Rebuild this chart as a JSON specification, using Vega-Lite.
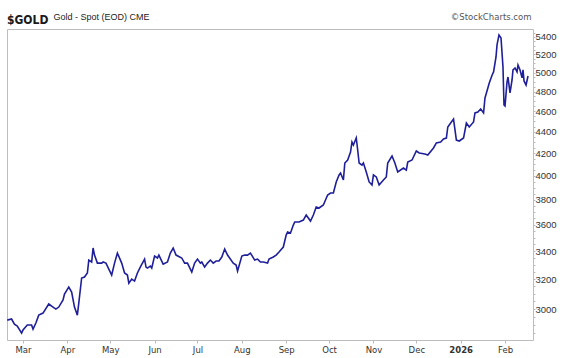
{
"$schema": "https://vega.github.io/schema/vega-lite/v6.json",
"width": 526, "height": 311,
"autosize": {"type": "none"},
"padding": {"left": 7, "top": 29, "right": 29, "bottom": 18},
"background": "white",
"title": {"text": "$GOLD", "anchor": "start", "frame": "group", "orient": "top", "offset": 0, "dy": 24, "baseline": "alphabetic", "font": "Liberation Sans Narrow, DejaVu Sans Condensed, sans-serif", "fontSize": 12, "fontWeight": "bold", "color": "#1a1a1a"},
"config": {"view": {"stroke": "#bdbdbd", "strokeWidth": 1}, "axis": {"grid": false, "domain": false}},
"data": {"values": [
{"date":"2025-02-18","close":2929},{"date":"2025-02-21","close":2936},{"date":"2025-02-23","close":2904},{"date":"2025-02-25","close":2892},{"date":"2025-02-28","close":2848},
{"date":"2025-03-01","close":2867},{"date":"2025-03-04","close":2898},{"date":"2025-03-07","close":2898},{"date":"2025-03-08","close":2873},{"date":"2025-03-10","close":2911},{"date":"2025-03-12","close":2961},{"date":"2025-03-15","close":2974},{"date":"2025-03-19","close":3033},{"date":"2025-03-22","close":3013},{"date":"2025-03-24","close":3000},{"date":"2025-03-26","close":3013},{"date":"2025-03-29","close":3059},{"date":"2025-03-30","close":3099},
{"date":"2025-04-02","close":3146},{"date":"2025-04-04","close":3112},{"date":"2025-04-06","close":3013},{"date":"2025-04-08","close":2961},{"date":"2025-04-09","close":3039},{"date":"2025-04-11","close":3208},{"date":"2025-04-13","close":3215},{"date":"2025-04-15","close":3243},{"date":"2025-04-16","close":3335},{"date":"2025-04-18","close":3321},{"date":"2025-04-19","close":3423},{"date":"2025-04-20","close":3371},{"date":"2025-04-22","close":3313},{"date":"2025-04-25","close":3313},{"date":"2025-04-26","close":3321},{"date":"2025-04-28","close":3313},
{"date":"2025-05-02","close":3229},{"date":"2025-05-04","close":3313},{"date":"2025-05-06","close":3386},{"date":"2025-05-09","close":3313},{"date":"2025-05-11","close":3243},{"date":"2025-05-13","close":3229},{"date":"2025-05-14","close":3173},{"date":"2025-05-16","close":3201},{"date":"2025-05-18","close":3187},{"date":"2025-05-20","close":3243},{"date":"2025-05-22","close":3285},{"date":"2025-05-25","close":3342},{"date":"2025-05-26","close":3285},{"date":"2025-05-27","close":3278},{"date":"2025-05-29","close":3292},{"date":"2025-05-30","close":3278},
{"date":"2025-06-01","close":3364},{"date":"2025-06-03","close":3350},{"date":"2025-06-04","close":3371},{"date":"2025-06-07","close":3306},{"date":"2025-06-10","close":3321},{"date":"2025-06-12","close":3386},{"date":"2025-06-14","close":3423},{"date":"2025-06-16","close":3371},{"date":"2025-06-20","close":3350},{"date":"2025-06-22","close":3313},{"date":"2025-06-24","close":3313},{"date":"2025-06-27","close":3250},{"date":"2025-06-29","close":3313},
{"date":"2025-07-01","close":3342},{"date":"2025-07-03","close":3313},{"date":"2025-07-04","close":3321},{"date":"2025-07-06","close":3285},{"date":"2025-07-08","close":3313},{"date":"2025-07-10","close":3335},{"date":"2025-07-12","close":3313},{"date":"2025-07-14","close":3328},{"date":"2025-07-16","close":3328},{"date":"2025-07-18","close":3357},{"date":"2025-07-20","close":3415},{"date":"2025-07-22","close":3371},{"date":"2025-07-26","close":3313},{"date":"2025-07-28","close":3299},{"date":"2025-07-29","close":3257},
{"date":"2025-08-01","close":3364},{"date":"2025-08-03","close":3371},{"date":"2025-08-05","close":3371},{"date":"2025-08-07","close":3386},{"date":"2025-08-10","close":3335},{"date":"2025-08-12","close":3342},{"date":"2025-08-14","close":3321},{"date":"2025-08-16","close":3321},{"date":"2025-08-19","close":3313},{"date":"2025-08-20","close":3342},{"date":"2025-08-23","close":3357},{"date":"2025-08-25","close":3371},{"date":"2025-08-27","close":3393},{"date":"2025-08-30","close":3430},
{"date":"2025-09-01","close":3520},{"date":"2025-09-02","close":3543},{"date":"2025-09-04","close":3536},{"date":"2025-09-06","close":3597},{"date":"2025-09-07","close":3621},{"date":"2025-09-10","close":3621},{"date":"2025-09-13","close":3636},{"date":"2025-09-15","close":3676},{"date":"2025-09-18","close":3628},{"date":"2025-09-20","close":3676},{"date":"2025-09-22","close":3740},{"date":"2025-09-24","close":3732},{"date":"2025-09-27","close":3756},{"date":"2025-09-30","close":3838},
{"date":"2025-10-02","close":3855},{"date":"2025-10-04","close":3855},{"date":"2025-10-06","close":3948},{"date":"2025-10-08","close":4008},{"date":"2025-10-09","close":4025},{"date":"2025-10-11","close":3965},{"date":"2025-10-12","close":4113},{"date":"2025-10-14","close":4140},{"date":"2025-10-16","close":4212},{"date":"2025-10-17","close":4304},{"date":"2025-10-18","close":4276},{"date":"2025-10-20","close":4341},{"date":"2025-10-21","close":4230},{"date":"2025-10-22","close":4113},{"date":"2025-10-24","close":4095},{"date":"2025-10-25","close":4113},{"date":"2025-10-27","close":4034},{"date":"2025-10-29","close":3948},{"date":"2025-10-31","close":3922},
{"date":"2025-11-01","close":4008},{"date":"2025-11-03","close":3991},{"date":"2025-11-05","close":3922},{"date":"2025-11-08","close":3965},{"date":"2025-11-10","close":3991},{"date":"2025-11-11","close":4113},{"date":"2025-11-14","close":4176},{"date":"2025-11-16","close":4113},{"date":"2025-11-18","close":4034},{"date":"2025-11-22","close":4069},{"date":"2025-11-24","close":4051},{"date":"2025-11-25","close":4122},{"date":"2025-11-28","close":4140},
{"date":"2025-12-01","close":4221},{"date":"2025-12-03","close":4203},{"date":"2025-12-07","close":4194},{"date":"2025-12-09","close":4185},{"date":"2025-12-13","close":4249},{"date":"2025-12-15","close":4295},{"date":"2025-12-18","close":4304},{"date":"2025-12-20","close":4332},{"date":"2025-12-22","close":4341},{"date":"2025-12-23","close":4446},{"date":"2025-12-25","close":4484},{"date":"2025-12-27","close":4523},{"date":"2025-12-29","close":4322},{"date":"2025-12-31","close":4313},
{"date":"2026-01-03","close":4341},{"date":"2026-01-05","close":4484},{"date":"2026-01-07","close":4446},{"date":"2026-01-10","close":4494},{"date":"2026-01-11","close":4583},{"date":"2026-01-13","close":4592},{"date":"2026-01-15","close":4622},{"date":"2026-01-17","close":4583},{"date":"2026-01-18","close":4733},{"date":"2026-01-19","close":4785},{"date":"2026-01-21","close":4889},{"date":"2026-01-23","close":4974},{"date":"2026-01-24","close":5007},
{"date":"2026-01-25T17:00:00Z","close":5172},{"date":"2026-01-26T10:00:00Z","close":5308},{"date":"2026-01-27T19:00:00Z","close":5424},{"date":"2026-01-29T05:00:00Z","close":5389},{"date":"2026-01-30T14:00:00Z","close":5061},{"date":"2026-01-31T07:00:00Z","close":4662},{"date":"2026-02-01T00:00:00Z","close":4652},{"date":"2026-02-02T10:00:00Z","close":4900},{"date":"2026-02-03T02:00:00Z","close":4953},{"date":"2026-02-04T12:00:00Z","close":4785},{"date":"2026-02-05T22:00:00Z","close":4921},{"date":"2026-02-06T14:00:00Z","close":5029},{"date":"2026-02-08T00:00:00Z","close":5050},{"date":"2026-02-09T10:00:00Z","close":5007},{"date":"2026-02-10T02:00:00Z","close":5083},{"date":"2026-02-11T12:00:00Z","close":5029},{"date":"2026-02-12T22:00:00Z","close":4943},{"date":"2026-02-13T14:00:00Z","close":5029},{"date":"2026-02-14T07:00:00Z","close":4911},{"date":"2026-02-15T17:00:00Z","close":4868},{"date":"2026-02-17T02:00:00Z","close":4964}
]},
"layer": [
{"mark": {"type": "line", "color": "#1f1f99", "strokeWidth": 1.6},
 "encoding": {
  "x": {"field": "date", "type": "temporal",
        "scale": {"type": "utc", "domain": [{"year": 2025, "month": 2, "date": 17, "hours": 19, "minutes": 30, "utc": true}, {"year": 2026, "month": 2, "date": 20, "hours": 13, "minutes": 40, "utc": true}]},
        "axis": {"orient": "bottom", "title": null, "tickCount": {"interval": "month", "step": 1},
                 "labelExpr": "utcmonth(datum.value) == 0 ? utcFormat(datum.value, '%Y') : utcFormat(datum.value, '%b')",
                 "labelFont": "DejaVu Sans", "labelFontSize": 8.5, "labelColor": "#333333",
                 "labelFontWeight": {"condition": {"test": "utcmonth(datum.value) == 0", "value": "bold"}, "value": "normal"},
                 "tickSize": 3, "tickColor": "#bbbbbb", "labelPadding": 2, "labelFlush": false, "labelOverlap": false}},
  "y": {"field": "close", "type": "quantitative",
        "scale": {"type": "log", "domain": [2806, 5494], "nice": false},
        "axis": {"orient": "right", "title": null,
                 "values": [2850,2900,2950,3000,3050,3100,3150,3200,3250,3300,3350,3400,3450,3500,3550,3600,3650,3700,3750,3800,3850,3900,3950,4000,4050,4100,4150,4200,4250,4300,4350,4400,4450,4500,4550,4600,4650,4700,4750,4800,4850,4900,4950,5000,5050,5100,5150,5200,5250,5300,5350,5400,5450],
                 "labelExpr": "datum.value % 200 == 0 ? '' + datum.value : ''",
                 "labelFont": "Liberation Sans", "labelFontSize": 9.5, "labelColor": "#333333",
                 "tickSize": 2, "tickColor": "#bbbbbb", "labelPadding": 0, "labelOverlap": false}}
 }},
{"mark": {"type": "line", "opacity": 0},
 "encoding": {
  "x": {"field": "date", "type": "temporal",
        "axis": {"orient": "top", "title": "©StockCharts.com", "labels": false, "ticks": false, "domain": false, "grid": false,
                 "titleX": 524, "titleY": -10, "titleAlign": "right", "titleBaseline": "alphabetic", "titleAngle": 0,
                 "titleFont": "DejaVu Sans", "titleFontSize": 8.5, "titleFontWeight": "normal", "titleColor": "#555555"}},
  "y": {"field": "close", "type": "quantitative",
        "axis": {"orient": "left", "title": "Gold - Spot (EOD)  CME", "labels": false, "ticks": false, "domain": false, "grid": false,
                 "titleX": 46, "titleY": -10, "titleAlign": "left", "titleBaseline": "alphabetic", "titleAngle": 0,
                 "titleFont": "Liberation Sans", "titleFontSize": 9, "titleFontWeight": "normal", "titleColor": "#222222"}}
 }}
],
"resolve": {"axis": {"x": "independent", "y": "independent"}}
}
